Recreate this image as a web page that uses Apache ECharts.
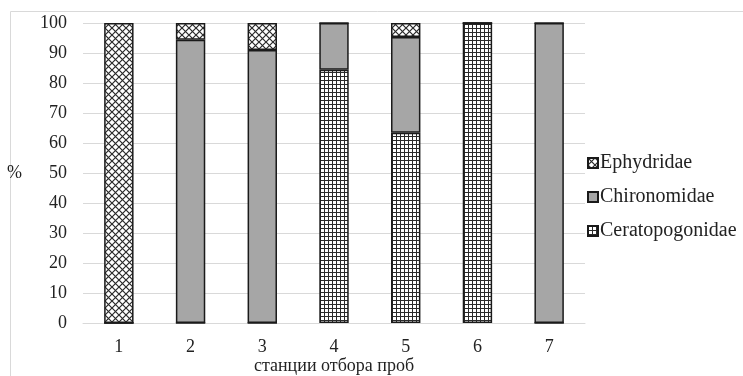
<!DOCTYPE html>
<html>
<head>
<meta charset="utf-8">
<script src="https://cdn.jsdelivr.net/npm/echarts@6/dist/echarts.min.js"></script>
<style>html,body{margin:0;padding:0;background:#fff}#c{width:743px;height:376px}</style>
</head>
<body>
<div id="c"></div>
<script>
const categories = ['1', '2', '3', '4', '5', '6', '7'];
const ceratopogonidae = [0, 0, 0, 84.4, 63.4, 100, 0];
const chironomidae = [0, 94.4, 91.0, 15.6, 31.9, 0, 100];
const ephydridae = [100, 5.6, 9.0, 0, 4.7, 0, 0];
const yTicks = [0, 10, 20, 30, 40, 50, 60, 70, 80, 90, 100];

function crossPattern() {
  const s = 7, c = document.createElement('canvas');
  c.width = s; c.height = s;
  const g = c.getContext('2d');
  g.fillStyle = '#fff'; g.fillRect(0, 0, s, s);
  g.strokeStyle = '#2a2a2a'; g.lineWidth = 1.2;
  g.beginPath();
  g.moveTo(0, 0); g.lineTo(s, s);
  g.moveTo(s, 0); g.lineTo(0, s);
  g.stroke();
  return c;
}
function gridPattern() {
  const s = 4, c = document.createElement('canvas');
  c.width = s; c.height = s;
  const g = c.getContext('2d');
  g.fillStyle = '#2a2a2a'; g.fillRect(0, 0, s, s);
  g.fillStyle = '#fff'; g.fillRect(1, 1, 3, 3);
  return c;
}

const chart = echarts.init(document.getElementById('c'));
const font = 'Liberation Serif';
const border = { borderColor: '#1a1a1a', borderWidth: 1.5 };
chart.setOption({
  animation: false,
  textStyle: { fontFamily: font },
  graphic: [{
    type: 'rect', shape: { x: 10.5, y: 11.5, width: 740, height: 370 },
    style: { fill: 'none', stroke: '#d9d9d9', lineWidth: 1 }
  }],
  grid: { left: 83, right: 158, top: 23, bottom: 53, outerBoundsMode: 'none', containLabel: false },
  legend: {
    orient: 'vertical', left: 582, top: 148,
    itemWidth: 10, itemHeight: 10, itemGap: 14, icon: 'rect',
    data: ['Ephydridae', 'Chironomidae', 'Ceratopogonidae'],
    textStyle: { fontFamily: font, fontSize: 20, color: '#222', padding: [0, 0, 0, -3] }
  },
  xAxis: {
    type: 'category', data: categories,
    name: 'станции отбора проб', nameLocation: 'middle', nameGap: 34, nameMoveOverlap: false,
    nameTextStyle: { fontFamily: font, fontSize: 18, color: '#222' },
    axisLine: { lineStyle: { color: '#d9d9d9' } },
    axisTick: { show: false },
    axisLabel: { fontFamily: font, fontSize: 18, color: '#222', margin: 15 }
  },
  yAxis: {
    type: 'value', min: yTicks[0], max: yTicks[yTicks.length - 1], interval: 10,
    name: '%', nameLocation: 'middle', nameRotate: 0, nameGap: 61, nameMoveOverlap: false,
    nameTextStyle: { fontFamily: font, fontSize: 18, color: '#222' },
    axisLine: { show: false }, axisTick: { show: false },
    splitLine: { lineStyle: { color: '#d9d9d9' } },
    axisLabel: { fontFamily: font, fontSize: 18, color: '#222', margin: 16 }
  },
  series: [
    { name: 'Ceratopogonidae', type: 'bar', stack: 's', data: ceratopogonidae, barWidth: '41%',
      itemStyle: Object.assign({ color: { image: gridPattern(), repeat: 'repeat' } }, border) },
    { name: 'Chironomidae', type: 'bar', stack: 's', data: chironomidae, barWidth: '41%',
      itemStyle: Object.assign({ color: '#a6a6a6' }, border) },
    { name: 'Ephydridae', type: 'bar', stack: 's', data: ephydridae, barWidth: '41%',
      itemStyle: Object.assign({ color: { image: crossPattern(), repeat: 'repeat' } }, border) }
  ]
});
</script>
</body>
</html>
